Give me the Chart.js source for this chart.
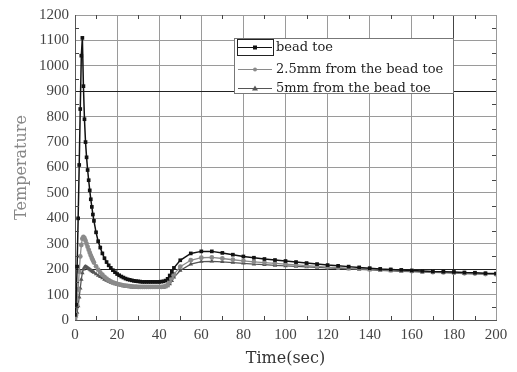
<!DOCTYPE html>
<html>
<head>
<meta charset="utf-8">
<script src="https://cdn.jsdelivr.net/npm/chart.js@4"></script>
<style>
  html, body { margin: 0; padding: 0; background: #fff; }
  #wrap { width: 517px; height: 372px; }
</style>
</head>
<body>
<div id="wrap"><canvas id="chart" width="517" height="372"></canvas></div>
<script>
// time samples (sec)
const time = [0, 0.5, 1, 1.5, 2, 2.5, 3, 3.5, 4, 4.5, 5, 5.5, 6, 6.5, 7, 7.5, 8, 8.5, 9,
  10, 11, 12, 13, 14, 15, 16, 17, 18, 19, 20, 21, 22, 23, 24, 25, 26, 27, 28, 29, 30,
  31, 32, 33, 34, 35, 36, 37, 38, 39, 40, 41, 42, 43, 44, 45, 46, 47, 50,
  55, 60, 65, 70, 75, 80, 85, 90, 95, 100, 105, 110, 115, 120, 125, 130, 135, 140,
  145, 150, 155, 160, 165, 170, 175, 180, 185, 190, 195, 200];

const beadToe = [20, 60, 210, 400, 610, 830, 1040, 1110, 920, 790, 700, 640, 590, 550, 510, 475, 445, 415, 390,
  345, 310, 285, 262, 243, 228, 215, 205, 196, 188, 181, 176, 171, 167, 163, 160, 158, 156, 154, 153, 152,
  151, 150, 150, 150, 150, 150, 150, 150, 150, 150, 151, 152, 155, 162, 175, 190, 205, 235,
  262, 270, 270, 264, 257, 250, 245, 240, 236, 232, 228, 224, 220, 216, 213, 210, 207, 204,
  201, 199, 197, 195, 193, 191, 190, 189, 187, 186, 184, 183];

const mm25 = [5, 20, 60, 120, 190, 250, 295, 320, 327, 322, 312, 300, 288, 276, 265, 254, 244, 235, 226,
  211, 198, 187, 178, 170, 163, 157, 152, 148, 145, 142, 140, 138, 136, 135, 134, 133, 132, 131, 131, 130,
  130, 130, 130, 130, 130, 130, 130, 130, 130, 130, 130, 131, 133, 138, 150, 165, 180, 210,
  235, 245, 246, 242, 237, 233, 229, 226, 223, 220, 217, 214, 211, 208, 206, 204, 202, 200,
  198, 196, 194, 192, 190, 188, 187, 186, 184, 183, 181, 180];

const mm5 = [10, 15, 30, 55, 90, 125, 160, 185, 200, 208, 210, 208, 205, 202, 199, 196, 193, 190, 187,
  181, 175, 170, 165, 160, 156, 152, 148, 145, 142, 140, 138, 136, 134, 132, 131, 130, 129, 128, 128, 127,
  127, 127, 127, 127, 127, 127, 127, 127, 127, 127, 127, 128, 130, 134, 142, 155, 168, 195,
  220, 230, 231, 229, 226, 223, 220, 218, 215, 213, 211, 209, 207, 205, 203, 201, 199, 197,
  195, 193, 191, 190, 188, 187, 186, 185, 183, 182, 181, 180];

const seriesLabels = ["bead toe", "2.5mm from the bead toe", "5mm from the bead toe"];

const pts = vals => vals.map((v, i) => ({ x: time[i], y: v }));

// inner minor ticks on all four sides + legend box inside the plot
const framePlugin = {
  id: "frame",
  afterDraw(chart) {
    const { ctx, chartArea: a, scales: { x, y } } = chart;
    ctx.save();
    ctx.strokeStyle = "#444";
    ctx.lineWidth = 1;
    ctx.beginPath();
    for (let v = 10; v < 200; v += 20) {
      const px = Math.round(x.getPixelForValue(v)) + 0.5;
      ctx.moveTo(px, a.bottom); ctx.lineTo(px, a.bottom - 4);
      ctx.moveTo(px, a.top); ctx.lineTo(px, a.top + 4);
    }
    for (let v = 50; v < 1200; v += 100) {
      const py = Math.round(y.getPixelForValue(v)) + 0.5;
      ctx.moveTo(a.left, py); ctx.lineTo(a.left + 4, py);
      ctx.moveTo(a.right, py); ctx.lineTo(a.right - 4, py);
    }
    ctx.stroke();

    // legend
    const lx = 234, ly = 38, lw = 219, lh = 55;
    ctx.fillStyle = "#fff";
    ctx.fillRect(lx, ly, lw, lh);
    ctx.strokeStyle = "#777";
    ctx.strokeRect(lx + 0.5, ly + 0.5, lw, lh);
    ctx.font = "13px 'DejaVu Serif'";
    ctx.textBaseline = "middle";
    const rows = [47, 69, 88];
    chart.data.datasets.forEach((ds, i) => {
      const ry = rows[i];
      if (i === 0) {
        ctx.strokeStyle = "#222";
        ctx.strokeRect(237.5, 39.5, 36, 16);
      }
      ctx.strokeStyle = ds.borderColor;
      ctx.lineWidth = 1.2;
      ctx.beginPath();
      ctx.moveTo(238, ry + 0.5); ctx.lineTo(272, ry + 0.5);
      ctx.stroke();
      ctx.fillStyle = ds.backgroundColor;
      if (ds.pointStyle === "rect") ctx.fillRect(253, ry - 1.5, 4, 4);
      else if (ds.pointStyle === "triangle") {
        ctx.beginPath();
        ctx.moveTo(255, ry - 2.5); ctx.lineTo(258, ry + 2.5); ctx.lineTo(252, ry + 2.5);
        ctx.closePath(); ctx.fill();
      } else {
        ctx.beginPath(); ctx.arc(255, ry + 0.5, 2, 0, Math.PI * 2); ctx.fill();
      }
      ctx.fillStyle = "#222";
      ctx.fillText(ds.label, 276, ry + 1);
    });
    ctx.restore();
  }
};

new Chart(document.getElementById("chart").getContext("2d"), {
  type: "line",
  data: {
    datasets: [
      {
        label: seriesLabels[0], data: pts(beadToe),
        borderColor: "#111", backgroundColor: "#111", borderWidth: 1.5,
        pointStyle: "rect", pointRadius: 2.6, pointBorderWidth: 0, tension: 0
      },
      {
        label: seriesLabels[1], data: pts(mm25),
        borderColor: "#8a8a8a", backgroundColor: "#8a8a8a", borderWidth: 1.3,
        pointStyle: "circle", pointRadius: 2.4, pointBorderWidth: 0, tension: 0
      },
      {
        label: seriesLabels[2], data: pts(mm5),
        borderColor: "#555", backgroundColor: "#555", borderWidth: 1.3,
        pointStyle: "triangle", pointRadius: 2.6, pointBorderWidth: 0, tension: 0
      }
    ]
  },
  options: {
    responsive: false,
    animation: false,
    layout: { padding: { top: 15, right: 21, left: 8, bottom: 0 } },
    plugins: { legend: { display: false }, tooltip: { enabled: false } },
    scales: {
      x: {
        type: "linear", min: 0, max: 200,
        ticks: { stepSize: 20, color: "#444", font: { family: "Liberation Serif", size: 15 }, padding: 6,
          callback: v => String(v) },
        grid: {
          drawTicks: false,
          color: ctx => (ctx.tick && ctx.tick.value === 180 ? "#444" : "#9a9a9a")
        },
        border: { color: "#555" },
        title: {
          display: true, text: "Time(sec)", color: "#333",
          font: { family: "DejaVu Serif", size: 16 }, padding: { top: 6 }
        },
        afterFit: s => { s.height = 52; }
      },
      y: {
        min: 0, max: 1200,
        ticks: { stepSize: 100, color: "#444", font: { family: "Liberation Serif", size: 15 }, padding: 6,
          callback: v => String(v) },
        grid: {
          drawTicks: false,
          color: ctx => (ctx.tick && (ctx.tick.value === 900 || ctx.tick.value === 200) ? "#222" : "#9a9a9a")
        },
        border: { color: "#555" },
        title: {
          display: true, text: "Temperature", color: "#888",
          font: { family: "DejaVu Serif", size: 16 }, padding: { bottom: 4 }
        },
        afterFit: s => { s.width = 67; }
      }
    }
  },
  plugins: [framePlugin]
});
</script>
</body>
</html>
